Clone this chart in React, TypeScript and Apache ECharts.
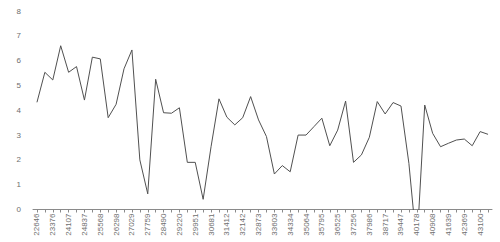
import React, { useEffect, useRef } from "react";
import * as echarts from "echarts";

const tickLabels = [
  "22646", "23376", "24107", "24837", "25568", "26298", "27029", "27759",
  "28490", "29220", "29951", "30681", "31412", "32142", "32873", "33603",
  "34334", "35064", "35795", "36525", "37256", "37986", "38717", "39447",
  "40178", "40908", "41639", "42369", "43100",
];

const values = [
  4.32, 5.53, 5.22, 6.6, 5.53, 5.76, 4.41, 6.14, 6.07, 3.7,
  4.24, 5.67, 6.43, 2.0, 0.63, 5.25, 3.9, 3.88, 4.1, 1.9,
  1.9, 0.41, 2.53, 4.46, 3.72, 3.41, 3.7, 4.55, 3.61, 2.94,
  1.43, 1.77, 1.52, 3.0, 3.0, 3.34, 3.68, 2.57, 3.2, 4.37,
  1.9, 2.2, 2.91, 4.35, 3.85, 4.31, 4.17, 1.86, -1.5, 4.21,
  3.07, 2.53, 2.67, 2.8, 2.84, 2.57, 3.14, 3.03,
];

const categories = values.map((_, i) => String(i));

export default function App() {
  const ref = useRef<HTMLDivElement>(null);
  useEffect(() => {
    if (!ref.current) return;
    const chart = echarts.init(ref.current, undefined, { renderer: "svg" });
    chart.setOption({
      animation: false,
      backgroundColor: "#ffffff",
      grid: { left: 33, right: 8, top: 11, bottom: 32.5, containLabel: false },
      xAxis: {
        type: "category",
        data: categories,
        boundaryGap: true,
        axisLine: { lineStyle: { color: "#8a8a8a", width: 1 } },
        axisTick: { show: true, interval: 0, alignWithLabel: true, length: 3, lineStyle: { color: "#8a8a8a" } },
        axisLabel: {
          interval: 0,
          rotate: 90,
          margin: 4,
          fontSize: 8,
          color: "#6e6e6e",
          fontFamily: "Liberation Sans, Arial, sans-serif",
          formatter: (_v: string, i: number) => (i % 2 === 0 ? tickLabels[i / 2] ?? "" : ""),
        },
        splitLine: { show: false },
      },
      yAxis: {
        type: "value",
        min: 0,
        max: 8,
        interval: 1,
        axisLine: { show: false },
        axisTick: { show: false },
        splitLine: { show: false },
        axisLabel: {
          fontSize: 8,
          color: "#6e6e6e",
          margin: 12,
          fontFamily: "Liberation Sans, Arial, sans-serif",
        },
      },
      series: [
        {
          type: "line",
          data: values,
          showSymbol: false,
          symbol: "none",
          clip: true,
          lineStyle: { color: "#505050", width: 1 },
        },
      ],
    });
    return () => chart.dispose();
  }, []);
  return (
    <div
      ref={ref}
      style={{ position: "fixed", left: 0, top: 0, width: 500, height: 242, background: "#fff" }}
    />
  );
}
